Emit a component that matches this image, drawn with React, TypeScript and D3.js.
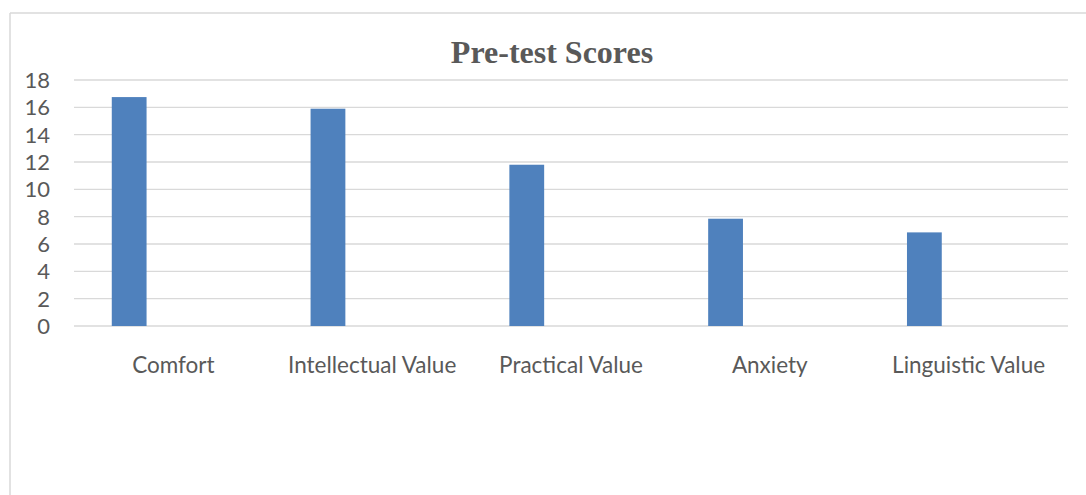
import React from 'react';
import {scaleBand, scaleLinear} from 'd3';

const categories = ['Comfort', 'Intellectual Value', 'Practical Value', 'Anxiety', 'Linguistic Value'];
const scores = [16.75, 15.9, 11.8, 7.85, 6.85];
const yTicks = [0, 2, 4, 6, 8, 10, 12, 14, 16, 18];

const W = 1086;
const H = 495;
const plot = {left: 74, right: 1068, top: 80, bottom: 326};
const font = "Lato, 'Open Sans', sans-serif";

const App = (): JSX.Element => {
    const x = scaleBand<string>().domain(categories).range([plot.left, plot.right]).padding(0);
    const y = scaleLinear().domain([0, 18]).range([plot.bottom, plot.top]);
    const bw = x.bandwidth();
    const barW = bw * 0.175;
    const barOff = bw * 0.19; // bar sits left in its slot (like an empty 2nd series)

    return (
        <svg width={W} height={H} style={{position: 'absolute', left: 0, top: 0}}>
            <rect x={0} y={0} width={W} height={H} fill="#fff" />
            {/* chart area border */}
            <line x1={10} x2={W} y1={13} y2={13} stroke="#d9d9d9" strokeWidth={1.5} />
            <line x1={10} x2={10} y1={13} y2={H} stroke="#d9d9d9" strokeWidth={1.5} />

            <text x={552} y={63} textAnchor="middle" fontFamily="'Liberation Serif', serif" fontWeight="bold"
                  fontSize={32} fill="#595959">Pre-test Scores</text>

            {yTicks.map(t => (
                <g key={t}>
                    <line x1={plot.left} x2={plot.right} y1={y(t)} y2={y(t)} stroke="#d9d9d9" strokeWidth={1.3} />
                    <text x={50} y={y(t)} dy="0.36em" textAnchor="end" fontFamily={font}
                          fontSize={22} fill="#595959">{t}</text>
                </g>
            ))}

            {categories.map((c, i) => (
                <rect key={c} x={(x(c) as number) + barOff} y={y(scores[i])} width={barW}
                      height={y(0) - y(scores[i])} fill="#4f81bd" />
            ))}

            {categories.map(c => (
                <text key={c} x={(x(c) as number) + bw / 2} y={373} textAnchor="middle"
                      fontFamily={font} fontSize={22.5} fill="#595959">{c}</text>
            ))}
        </svg>
    );
};

export default App;
